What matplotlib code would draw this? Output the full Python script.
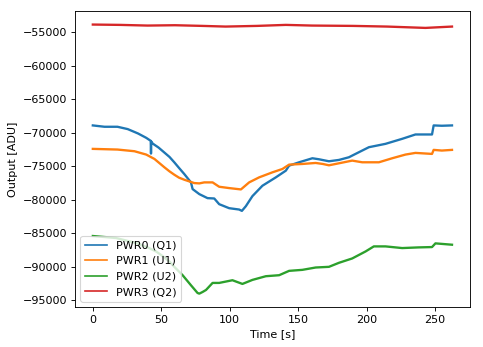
import numpy as np
import matplotlib.pyplot as plt

# power monitor outputs, sampled from the run log
t_pwr0 = [0, 8.5, 18, 25.5, 33, 39, 42.3, 42.5, 42.7, 43.7, 48, 52, 56, 59.5, 63, 66.8, 71.7,
          72.9, 77.8, 83.8, 88.7, 92.3, 99.6, 106.9, 108.9, 111.8, 116.6, 123.9, 133.7,
          141, 143.4, 150.7, 160.4, 165.2, 172.5, 179.8, 187.1, 189.5, 196.8, 201.7,
          213.8, 226, 235.7, 247.8, 249, 255, 262.4]
pwr0 = [-68900, -69100, -69100, -69450, -70100, -70750, -71200, -73100, -71300, -71600,
        -72200, -72900, -73600, -74400, -75250, -76150, -77400, -78400, -79150, -79750,
        -79800, -80650, -81250, -81450, -81650, -80950, -79450, -77900, -76650, -75650,
        -74900, -74400, -73800, -73950, -74250, -74050, -73650, -73400, -72650, -72150,
        -71650, -70900, -70250, -70250, -68900, -68950, -68900]

t_pwr1 = [0, 18, 30.4, 39, 45, 48.5, 52.3, 56, 59.5, 63, 66.8, 74.1, 77.8, 81.4, 87.5, 92.3,
          99.6, 108.2, 114.2, 121.5, 131.2, 138.5, 143.4, 153.1, 162.8, 168, 172.5, 179.8,
          189.5, 196.8, 209, 218.7, 228.4, 235.7, 247.8, 249, 255, 262.4]
pwr1 = [-72400, -72500, -72750, -73250, -73900, -74500, -75150, -75750, -76250, -76700,
        -77000, -77500, -77550, -77400, -77400, -78050, -78250, -78450, -77400, -76650,
        -75900, -75400, -74750, -74650, -74500, -74650, -74850, -74550, -74150, -74400,
        -74400, -73800, -73250, -73000, -73150, -72550, -72650, -72550]

t_pwr2 = [0, 17, 31.6, 40, 46.2, 51, 55.9, 60, 65.6, 71.7, 76.5, 77.8, 80.2, 82.7, 87.5,
          92.3, 102, 109.3, 116.6, 126.4, 136.1, 143.4, 153.1, 162.8, 172.5, 179.8, 189.5,
          199.3, 205.3, 213.8, 226, 238, 247.8, 250.3, 262.4]
pwr2 = [-85400, -85700, -86450, -87100, -87700, -88400, -89200, -90100, -91250, -92750,
        -93900, -94000, -93750, -93450, -92400, -92400, -92000, -92550, -91950, -91400,
        -91250, -90600, -90450, -90100, -90000, -89400, -88750, -87700, -86950, -86950,
        -87200, -87100, -87050, -86500, -86700]

t_pwr3 = [0, 20, 40, 60, 80, 97, 120, 141, 160, 190, 215, 243, 262.4]
pwr3 = [-53850, -53900, -54000, -53950, -54050, -54150, -54050, -53900, -54000, -54050,
        -54150, -54350, -54150]

labels = ['PWR0 (Q1)', 'PWR1 (U1)', 'PWR2 (U2)', 'PWR3 (Q2)']

fig, ax = plt.subplots(figsize=(483 / 80, 347 / 80), dpi=80)
fig.subplots_adjust(left=0.155, right=0.973, top=0.968, bottom=0.115)

for t, y, lab in zip([t_pwr0, t_pwr1, t_pwr2, t_pwr3], [pwr0, pwr1, pwr2, pwr3], labels):
    ax.plot(t, y, lw=2.1, label=lab)

ax.set_xlabel('Time [s]')
ax.set_ylabel('Output [ADU]')
leg = ax.legend(loc='lower left')
for h in leg.get_lines():
    h.set_linewidth(1.5)

fig.savefig('out.png', dpi=80)
